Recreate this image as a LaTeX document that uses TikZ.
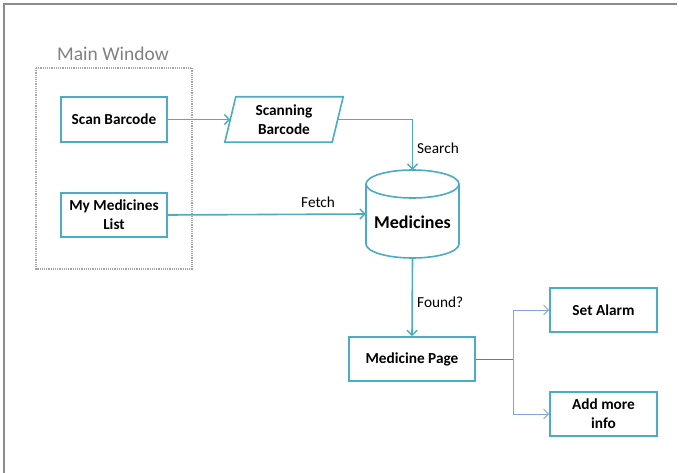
\documentclass[tikz,border=0pt]{standalone}
\usepackage{fontspec}
\setmainfont{Carlito}
\usetikzlibrary{arrows.meta,calc}
\definecolor{teal1}{HTML}{4BACC6}
\definecolor{blueA}{HTML}{4F81BD}
\definecolor{blueB}{HTML}{7FA6D6}
\definecolor{frame}{HTML}{8C8C8C}
\tikzset{
  box/.style={draw=teal1, line width=1.6pt, fill=white, align=center, font=\fontsize{15.3}{19}\selectfont\bfseries, inner sep=0pt},
  ghost/.style={inner sep=0pt, align=center, font=\fontsize{15.3}{19}\selectfont\bfseries},
  flow/.style={draw=teal1, line width=1.6pt, -{Straight Barb[length=5pt,width=10pt,line width=1.4pt]}},
  thinflow/.style={draw=blueB, line width=0.9pt, -{Straight Barb[length=5pt,width=10pt,line width=0.9pt]}},
  lbl/.style={font=\fontsize{15.3}{17}\selectfont, inner sep=0pt, anchor=west}
}
\begin{document}
\begin{tikzpicture}[x=1pt,y=-1pt]
\useasboundingbox (0,0) rectangle (679,473);
% outer frame
\draw[frame, line width=1.5pt] (4,473) -- (4,4) -- (677,4);
% main window group
\draw[gray!70, line width=1.2pt, densely dotted] (36,68) rectangle (192,269);
\node[font=\fontsize{19.5}{21}\selectfont, text=gray, inner sep=0pt] (mwlabel) at (113,54) {Main Window};
% nodes
\node[box, minimum width=106pt, minimum height=45pt] (scan) at (114,119.5) {Scan Barcode};
\node[box, minimum width=106pt, minimum height=44pt] (mml) at (114,215) {My Medicines\\List};
\node[ghost, minimum width=118pt, minimum height=45pt] (sb) at (284,119.5) {};
\draw[teal1, line width=1.6pt, fill=white] ([xshift=11pt]sb.north west) -- (sb.north east) -- ([xshift=-11pt]sb.south east) -- (sb.south west) -- cycle;
\node[ghost] at (sb.center) {Scanning\\Barcode};
% cylinder
\node[ghost, minimum width=93pt, minimum height=88pt] (db) at (412.5,214) {};
\draw[teal1, line width=1.6pt, fill=white] (366,184) -- (366,244) arc[start angle=180, end angle=360, x radius=46.5pt, y radius=14pt] -- (459,184);
\draw[teal1, line width=1.6pt, fill=white] (412.5,184) ellipse [x radius=46.5pt, y radius=14pt];
\node[ghost, font=\fontsize{18}{19}\selectfont\bfseries] at (412.5,222) {Medicines};
\node[box, minimum width=126pt, minimum height=44pt] (mp) at (412,359) {Medicine Page};
\node[box, minimum width=107pt, minimum height=44pt] (sa) at (603.5,310) {Set Alarm};
\node[box, minimum width=107pt, minimum height=44pt] (am) at (603.5,414) {Add more\\info};
% connectors
\draw[flow] (scan.east) -- ([xshift=5.5pt]sb.west);
\draw[flow] ([xshift=-5.5pt]sb.east) -| (db.north);
\draw[flow] (mml.east) -- (db.west);
\draw[flow] (db.south) -- (mp.north);
\coordinate (j) at (513,359);
\draw[blueA, line width=0.9pt] (mp.east) -- (j);
\draw[thinflow] (j) |- (sa.west);
\draw[thinflow] (j) |- (am.west);
% labels
\node[lbl] (lsearch) at (417,148) {Search};
\node[lbl] (lfetch) at (301,202) {Fetch};
\node[lbl] (lfound) at (417,302) {Found?};
\end{tikzpicture}
\end{document}
